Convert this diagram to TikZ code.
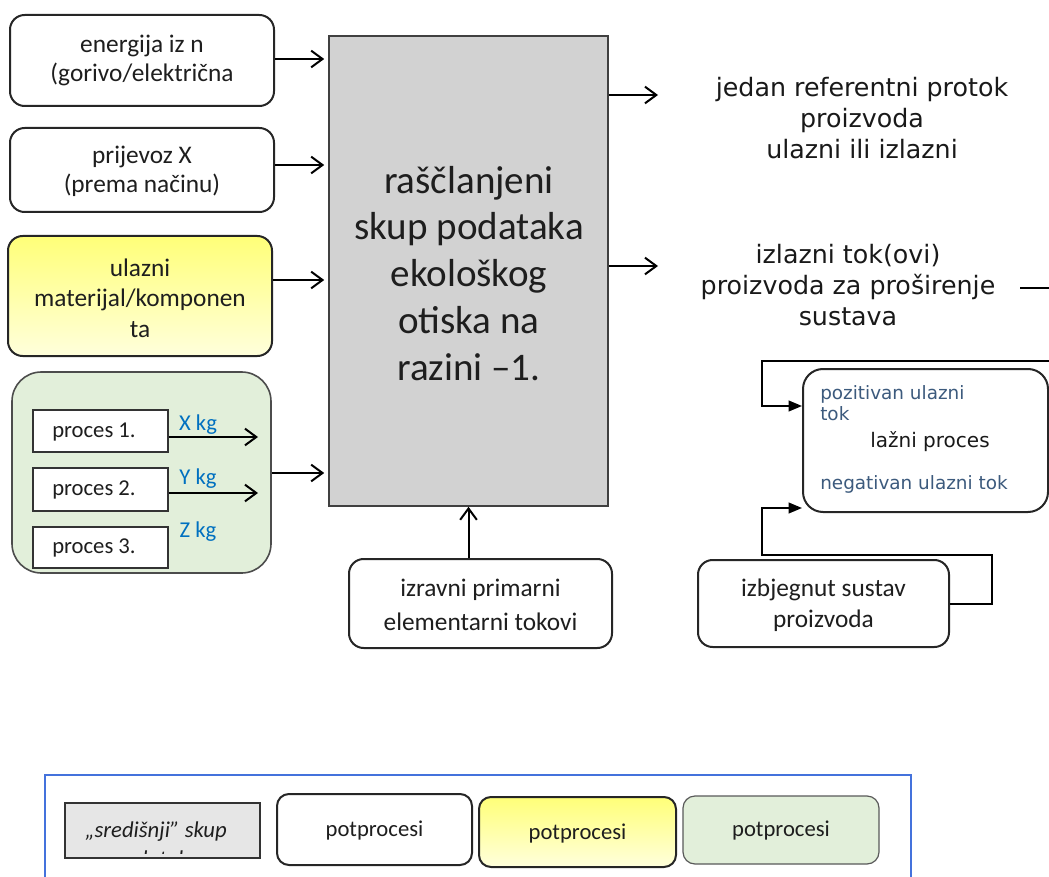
\documentclass[tikz,border=0pt]{standalone}
\usepackage{fontspec}
\setmainfont{Carlito}
\newfontfamily\verd{DejaVu Sans}
\usetikzlibrary{arrows.meta,fit,calc}
\definecolor{txt}{RGB}{30,30,30}
\definecolor{maingray}{RGB}{210,210,210}
\definecolor{grn}{RGB}{226,239,218}
\definecolor{yelA}{RGB}{255,255,120}
\definecolor{yelB}{RGB}{255,255,220}
\definecolor{kgblue}{RGB}{0,112,192}
\definecolor{slate}{RGB}{60,90,125}
\definecolor{legblue}{RGB}{68,114,220}
\definecolor{leggray}{RGB}{230,230,230}
\begin{document}
\begin{tikzpicture}[x=0.75pt,y=-0.75pt,
  every node/.style={text=txt},
  fitbox/.style={inner sep=0pt},
  rbox/.style={draw=black!85, line width=1.5pt, rounded corners=11pt, inner sep=0pt, fill=white},
  calfont/.style={font=\fontsize{19}{21.5}\selectfont, align=center, inner sep=0pt},
  verdfont/.style={font=\verd\fontsize{19}{23.2}\selectfont, align=center, text=black!90},
  small/.style={font=\verd\fontsize{13.8}{15.8}\selectfont, text=slate, align=left, inner sep=0pt},
  pbox/.style={draw=black!80, line width=0.9pt, fill=white, inner sep=0pt},
  ptext/.style={font=\fontsize{17}{20}\selectfont, inner sep=0pt, anchor=west},
  kg/.style={font=\fontsize{17}{20}\selectfont, text=kgblue, inner sep=0pt},
  arr/.style={line width=1.5pt, -{Straight Barb[length=8.5pt,width=12.5pt,line width=1.5pt]}},
  tri/.style={line width=1.5pt, -{Triangle[length=10pt,width=8pt]}},
  legtext/.style={font=\fontsize{17}{20}\selectfont, inner sep=0pt},
]
\useasboundingbox (0,0) rectangle (1049,877);
\clip (0,0) rectangle (1049,877);

% left input boxes
\node[rbox, fit={(10,15)(274,106)}] (b1) {};
\node[calfont] (b1t) at (142,60.5) {energija iz n\\(gorivo/električna};
\node[rbox, fit={(10,128)(274,212)}] (b2) {};
\node[calfont] (b2t) at (142,171) {prijevoz X\\(prema načinu)};
\node[rbox, fill=none, top color=yelA, bottom color=yelB, fit={(8,236)(272,356)}] (b3) {};
\node[calfont, font=\fontsize{19}{23}\selectfont] (b3t) at (140,298) {ulazni\\materijal/komponen\\ta};

% green group
\node[draw=black!70, line width=1.2pt, fill=grn, rounded corners=22pt, fitbox, fit={(12,372)(271,573)}] (gr) {};
\node[pbox, fit={(33,410)(168,452)}] (p1) {};
\node[pbox, fit={(33,468)(168,511)}] (p2) {};
\node[pbox, fit={(33,527)(168,568)}] (p3) {};
\node[ptext] (p1t) at (52,432) {proces 1.};
\node[ptext] (p2t) at (52,490) {proces 2.};
\node[ptext] (p3t) at (52,548) {proces 3.};
\coordinate (p1e) at (258,437);
\coordinate (p2e) at (258,493);
\draw[arr] (p1.east |- p1e) -- (p1e);
\draw[arr] (p2.east |- p2e) -- (p2e);
\node[kg] (xkg) at (198,425) {X kg};
\node[kg] (ykg) at (198,479) {Y kg};
\node[kg] (zkg) at (198,532) {Z kg};

% main box
\node[draw=black!75, line width=1.2pt, fill=maingray, fitbox, fit={(329,36)(608,506)}] (main) {};
\node[font=\fontsize{29.3}{35.2}\selectfont, align=center, inner sep=0pt] (maint) at (469,273.5) {raščlanjeni\\skup podataka\\ekološkog\\otiska na\\razini –1.};

\draw[arr, shorten >=3pt] (b1.east |- 0,59) -- (main.west |- 0,59);
\draw[arr, shorten >=3pt] (b2.east |- 0,165) -- (main.west |- 0,165);
\draw[arr, shorten >=3pt] (b3.east |- 0,280) -- (main.west |- 0,280);
\draw[arr, shorten >=3pt] (gr.east |- 0,473) -- (main.west |- 0,473);

% bottom box
\node[rbox, fit={(349,559)(612,648)}] (bot) {};
\node[calfont, font=\fontsize{19}{25.5}\selectfont] (bott) at (480.5,605) {izravni primarni\\elementarni tokovi};
\draw[arr] (main.south |- bot.north) -- (main.south);

% outputs
\coordinate (o1) at (658,95);
\coordinate (o2) at (658,266);
\draw[arr] (main.east |- o1) -- (o1);
\draw[arr] (main.east |- o2) -- (o2);
\node[verdfont] (ref) at (862,118) {jedan referentni protok\\proizvoda\\ulazni ili izlazni};
\node[verdfont] (izl) at (848,285) {izlazni tok(ovi)\\proizvoda za proširenje\\sustava};
\coordinate (izlA) at (1020,288);
\coordinate (izlB) at (1055,288);
\draw[line width=1.4pt] (izlA) -- (izlB);

% lazni proces
\node[rbox, rounded corners=15pt, fit={(803,369)(1048,512)}] (lp) {};
\node[small, anchor=west] (pos) at (820,403.5) {pozitivan ulazni\\tok};
\node[font=\verd\fontsize{15}{18}\selectfont, text=black!90] (lpt) at (930,442) {lažni proces};
\node[small, anchor=west] (neg) at (820,484) {negativan ulazni tok};
\coordinate (topin) at (1060,361);
\draw[tri] (topin) -- (762,361) -- (762,406) -- (lp.west |- 0,406);

\node[rbox, fit={(698,560)(949,647)}] (izb) {};
\node[calfont, font=\fontsize{19}{23.2}\selectfont] (izbt) at (823.5,605.5) {izbjegnut sustav\\proizvoda};
\draw[tri] (izb.east) -- (992,603.5) -- (992,555) -- (762,555) -- (762,508) -- (lp.west |- 0,508);

% legend
\node[draw=legblue, line width=0.9pt, fitbox, fit={(45,775)(911,900)}] (leg) {};
\node[draw=black!80, line width=1.2pt, fill=leggray, fitbox, fit={(65,803)(260,858)}] (lg1) {};
\begin{scope}
\clip (67,805) rectangle (258,853);
\node[font=\itshape\fontsize{17}{22}\selectfont, align=center, inner sep=0pt] (lg1t) at (156,846) {„središnji” skup\\podataka};
\end{scope}
\node[rbox, rounded corners=9pt, fit={(277,794)(472,865)}] (lg2) {};
\node[legtext] (lg2t) at (374.5,831) {potprocesi};
\node[rbox, rounded corners=9pt, fill=none, top color=yelA, bottom color=yelB, fit={(479,797)(676,867)}] (lg3) {};
\node[legtext] (lg3t) at (577.5,834) {potprocesi};
\node[draw=black!65, line width=0.9pt, fill=grn, rounded corners=9pt, fitbox, fit={(683,796)(879,864)}] (lg4) {};
\node[legtext] (lg4t) at (781,831) {potprocesi};
\end{tikzpicture}
\end{document}
